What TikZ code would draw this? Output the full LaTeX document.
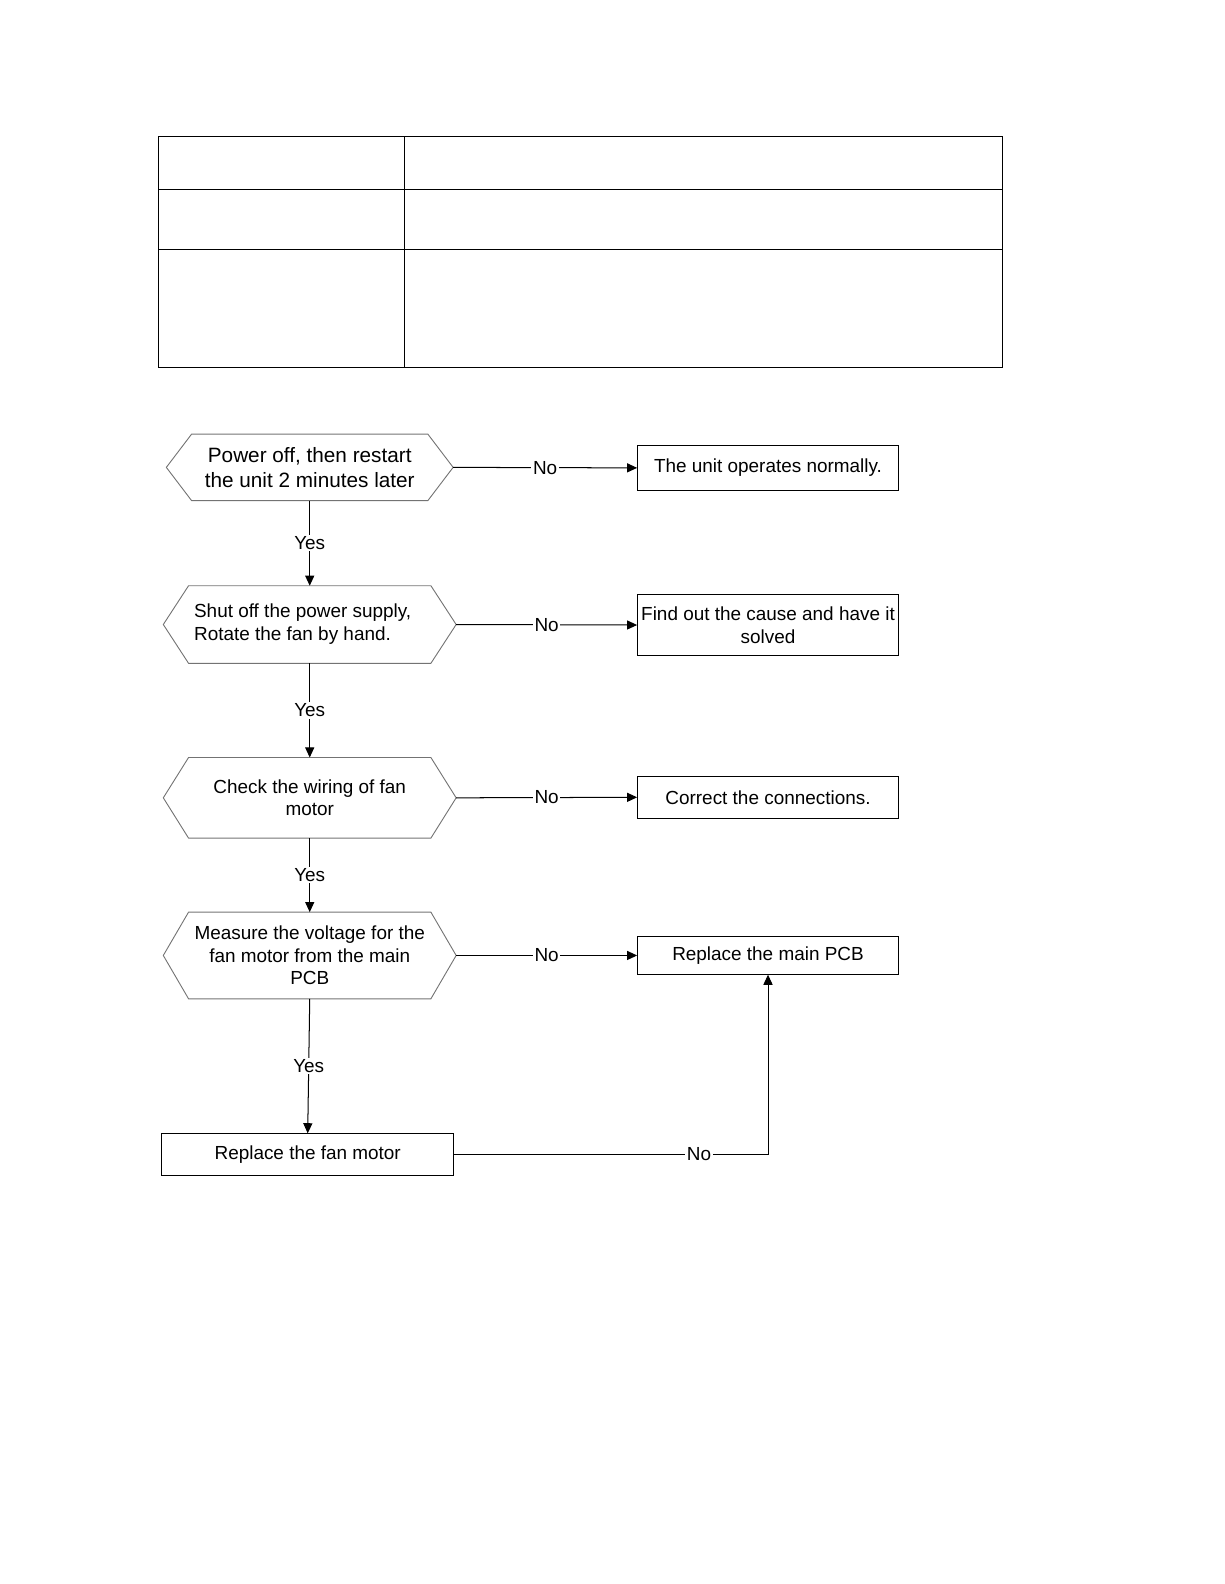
\documentclass[tikz,border=0pt]{standalone}
\usepackage{fontspec}
\setmainfont{Liberation Sans}
\usetikzlibrary{arrows.meta,calc}
\tikzset{
  hexnode/.style={draw=none, inner sep=0pt, align=center, font=\fontsize{9.4}{11.3}\selectfont},
  hexline/.style={draw=black!55, line width=0.45bp},
  boxnode/.style={draw=black, line width=0.5bp, inner sep=0pt, align=center, minimum width=129bp, font=\fontsize{9.4}{11.3}\selectfont},
  conn/.style={draw=black, line width=0.5bp},
  arr/.style={conn, -{Triangle[length=5bp,width=4.5bp]}},
  lbl/.style={fill=white, inner sep=0.8pt, font=\fontsize{9.4}{11}\selectfont},
  tab/.style={draw=black, line width=0.5bp}
}
\newcommand\hexdraw[1]{\draw[hexline] (#1.west) -- ([xshift=12.5bp]#1.north west) -- ([xshift=-12.5bp]#1.north east) -- (#1.east) -- ([xshift=-12.5bp]#1.south east) -- ([xshift=12.5bp]#1.south west) -- cycle;}
\begin{document}
\begin{tikzpicture}[x=0.5bp,y=-0.5bp]
\useasboundingbox (0,0) rectangle (1211.3,1567.5);
% empty table
\draw[tab] (157,135) rectangle (992,364);
\draw[tab] (400,135) -- (400,364);
\draw[tab] (157,188) -- (992,188);
\draw[tab] (157,247) -- (992,247);
% decision hexagons
\node[hexnode, minimum width=141.5bp, minimum height=32.5bp, font=\fontsize{10.3}{12.5}\selectfont] (h1) at (306.5,462.5) {Power off, then restart\\the unit 2 minutes later};
\node[hexnode, minimum width=144.5bp, minimum height=38bp] (h2) at (306.5,618) {\hspace*{-7bp}\begin{tabular}{@{}l@{}}Shut off the power supply,\\Rotate the fan by hand.\end{tabular}};
\node[hexnode, minimum width=144.5bp, minimum height=39.5bp] (h3) at (306.5,789.5) {Check the wiring of fan\\motor};
\node[hexnode, minimum width=144.5bp, minimum height=42.5bp] (h4) at (306.5,945.5) {Measure the voltage for the\\fan motor from the main\\PCB};
\hexdraw{h1}
\hexdraw{h2}
\hexdraw{h3}
\hexdraw{h4}
% action boxes
\node[boxnode, minimum height=22bp] (b1) at (760,463) {The unit operates normally.};
\node[boxnode, minimum height=30.5bp] (b2) at (760,618.5) {Find out the cause and have it\\solved};
\node[boxnode, minimum height=21bp] (b3) at (760,789) {Correct the connections.};
\node[boxnode, minimum height=18.5bp] (b4) at (760,945.5) {Replace the main PCB};
\node[boxnode, minimum width=144.5bp, minimum height=20.5bp] (b5) at (304.5,1142.5) {Replace the fan motor};
% No connectors
\draw[arr] (h1.east) -- node[lbl] {No} (b1.west);
\draw[arr] (h2.east) -- node[lbl] {No} (b2.west);
\draw[arr] (h3.east) -- node[lbl] {No} (b3.west);
\draw[arr] (h4.east) -- node[lbl] {No} (b4.west);
\draw[arr] (b5.east) -| node[lbl, pos=0.39] {No} (b4.south);
% Yes connectors
\draw[arr] (h1.south) -- node[lbl] {Yes} (h2.north);
\draw[arr] (h2.south) -- node[lbl] {Yes} (h3.north);
\draw[arr] (h3.south) -- node[lbl] {Yes} (h4.north);
\draw[arr] (h4.south) -- node[lbl] {Yes} (b5.north);
\end{tikzpicture}
\end{document}
